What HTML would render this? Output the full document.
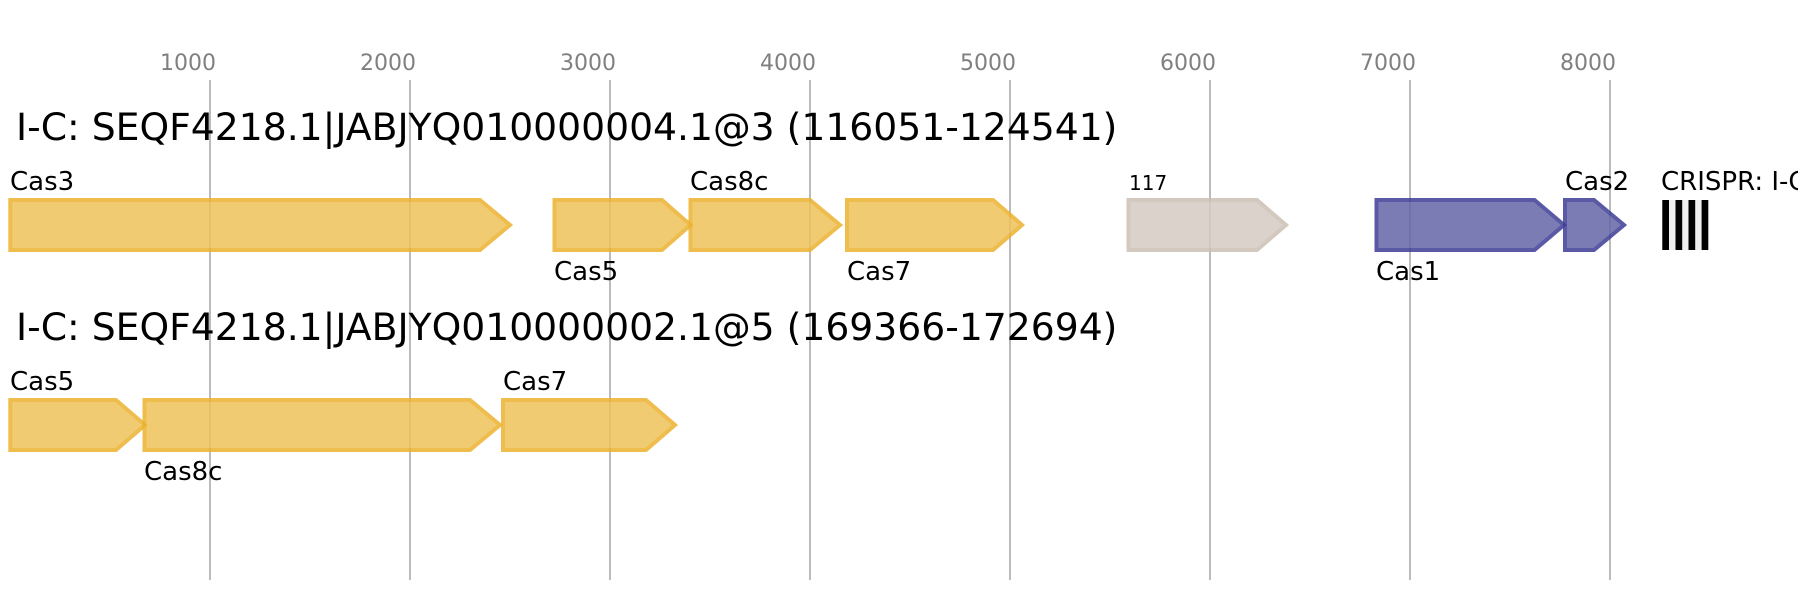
<!DOCTYPE html>
<html>
<head>
<meta charset="utf-8">
<style>
html,body{margin:0;padding:0;background:#fff;width:1798px;height:600px;overflow:hidden}
svg{display:block}
text{font-family:"DejaVu Sans",sans-serif}
.t{font-size:22px;fill:#808080}
.h{font-size:37.7px;fill:#000}
.l{font-size:26px;fill:#000}
.g{stroke-width:4;opacity:.85}
.y{fill:#efc35a;stroke:#ecb22f}
.n{fill:#d5cbc4;stroke:#cdc0b4}
.b{fill:#6666a8;stroke:#3d3d96}
</style>
</head>
<body>
<svg width="1798" height="600" viewBox="0 0 1798 600" xmlns="http://www.w3.org/2000/svg">
<g stroke="#bbb" stroke-width="2">
<line x1="210" y1="80" x2="210" y2="580"/>
<line x1="410" y1="80" x2="410" y2="580"/>
<line x1="610" y1="80" x2="610" y2="580"/>
<line x1="810" y1="80" x2="810" y2="580"/>
<line x1="1010" y1="80" x2="1010" y2="580"/>
<line x1="1210" y1="80" x2="1210" y2="580"/>
<line x1="1410" y1="80" x2="1410" y2="580"/>
<line x1="1610" y1="80" x2="1610" y2="580"/>
</g>
<text class="t" x="160" y="70">1000</text>
<text class="t" x="360" y="70">2000</text>
<text class="t" x="560" y="70">3000</text>
<text class="t" x="760" y="70">4000</text>
<text class="t" x="960" y="70">5000</text>
<text class="t" x="1160" y="70">6000</text>
<text class="t" x="1360" y="70">7000</text>
<text class="t" x="1560" y="70">8000</text>
<text class="h" x="16" y="140">I-C: SEQF4218.1|JABJYQ010000004.1@3 (116051-124541)</text>
<text class="h" x="16" y="340">I-C: SEQF4218.1|JABJYQ010000002.1@5 (169366-172694)</text>

<polygon class="g y" points="10.3,200 480,200 510,225 480,250 10.3,250"/>
<polygon class="g y" points="554.5,200 662,200 690.5,225 662,250 554.5,250"/>
<polygon class="g y" points="690.5,200 810,200 840,225 810,250 690.5,250"/>
<polygon class="g y" points="847,200 993,200 1022,225 993,250 847,250"/>
<polygon class="g n" points="1128.5,200 1257,200 1286,225 1257,250 1128.5,250"/>
<polygon class="g b" points="1376.5,200 1534.5,200 1564,225 1534.5,250 1376.5,250"/>
<polygon class="g b" points="1565,200 1594,200 1624,225 1594,250 1565,250"/>

<text class="l" x="10" y="190">Cas3</text>
<text class="l" x="554" y="280">Cas5</text>
<text class="l" x="690" y="190">Cas8c</text>
<text class="l" x="847" y="280">Cas7</text>
<text x="1129" y="190" style="font-size:20px">117</text>
<text class="l" x="1376" y="280">Cas1</text>
<text class="l" x="1565" y="190">Cas2</text>
<text class="l" x="1661" y="190">CRISPR: I-C</text>
<rect x="1662" y="200" width="46.5" height="50" fill="#eee"/>
<g fill="#000">
<rect x="1662.3" y="200" width="6.7" height="50"/>
<rect x="1675.5" y="200" width="6.7" height="50"/>
<rect x="1688.5" y="200" width="6.7" height="50"/>
<rect x="1701.6" y="200" width="6.7" height="50"/>
</g>

<polygon class="g y" points="10.3,400 116,400 145,425 116,450 10.3,450"/>
<polygon class="g y" points="144.5,400 470,400 500,425 470,450 144.5,450"/>
<polygon class="g y" points="503,400 646,400 675,425 646,450 503,450"/>
<text class="l" x="10" y="390">Cas5</text>
<text class="l" x="144" y="480">Cas8c</text>
<text class="l" x="503" y="390">Cas7</text>
</svg>
</body>
</html>
